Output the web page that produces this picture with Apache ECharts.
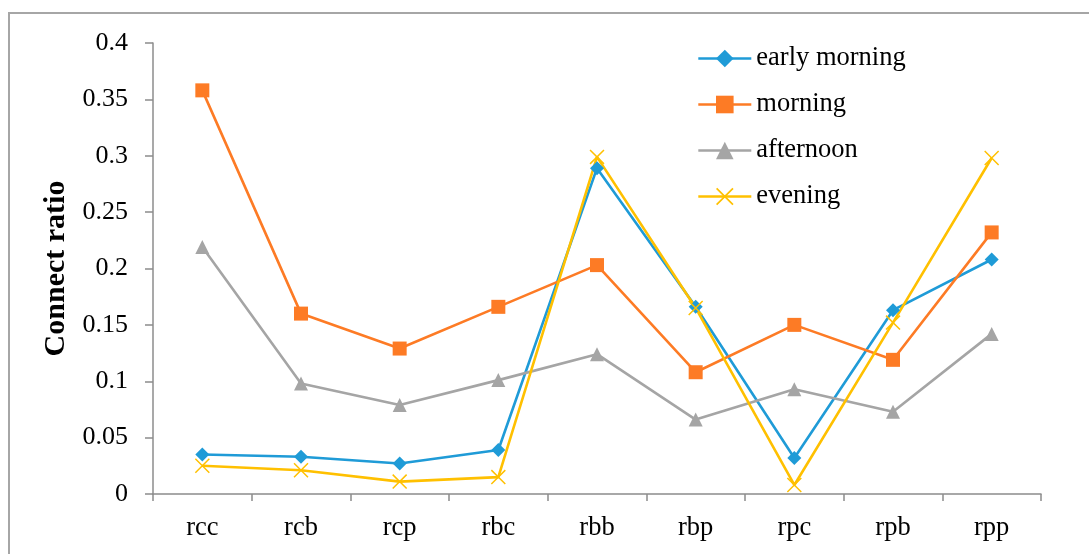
<!DOCTYPE html>
<html>
<head>
<meta charset="utf-8">
<script src="https://cdn.jsdelivr.net/npm/echarts@6/dist/echarts.min.js"></script>
<style>
  html, body { margin: 0; padding: 0; background: #fff; }
  #chart { width: 1089px; height: 554px; }
</style>
</head>
<body>
<div id="chart"></div>
<script>
// Connection types on the category axis
const categories = ['rcc', 'rcb', 'rcp', 'rbc', 'rbb', 'rbp', 'rpc', 'rpb', 'rpp'];

// Connect ratio per time of day
const earlyMorning = [0.035, 0.033, 0.027, 0.039, 0.289, 0.166, 0.032, 0.163, 0.208];
const morning      = [0.358, 0.160, 0.129, 0.166, 0.203, 0.108, 0.150, 0.119, 0.232];
const afternoon    = [0.219, 0.098, 0.079, 0.101, 0.124, 0.066, 0.093, 0.073, 0.142];
const evening      = [0.025, 0.021, 0.011, 0.015, 0.299, 0.165, 0.008, 0.152, 0.298];

const yTicks = { min: 0, max: 0.4, interval: 0.05 };

const serif = '"Liberation Serif", "DejaVu Serif", serif';
const axisGray = '#8c8c8c';

// thin "x" mark built from two slim diagonal bars
const crossPath = 'path://M0,0.7L0.7,0L10,9.3L9.3,10Z M9.3,0L10,0.7L0.7,10L0,9.3Z';

function lineSeries(name, data, color, symbol, size) {
  return {
    name: name,
    type: 'line',
    data: data,
    symbol: symbol,
    symbolSize: size,
    showAllSymbol: true,
    lineStyle: { color: color, width: 2.6 },
    itemStyle: { color: color, borderWidth: 0 },
    emphasis: { disabled: true },
    animation: false
  };
}

const chart = echarts.init(document.getElementById('chart'), null, { renderer: 'canvas' });
chart.setOption({
  backgroundColor: '#ffffff',
  animation: false,
  grid: { left: 153, right: 48, top: 43, bottom: 60 },
  graphic: [{
    type: 'rect',
    shape: { x: 9, y: 13, width: 1200, height: 1000 },
    style: { fill: 'none', stroke: '#a6a6a6', lineWidth: 2 },
    silent: true
  }],
  legend: {
    orient: 'vertical',
    left: 692,
    top: 40,
    itemWidth: 53,
    itemHeight: 22,
    itemGap: 19,
    lineStyle: { width: 2.6 },
    textStyle: { fontFamily: serif, fontSize: 26.5, color: '#000' },
    data: ['early morning', 'morning', 'afternoon', 'evening']
  },
  xAxis: {
    type: 'category',
    data: categories,
    boundaryGap: true,
    axisLine: { lineStyle: { color: axisGray, width: 1.5 } },
    axisTick: { show: true, alignWithLabel: false, length: 7, lineStyle: { color: axisGray, width: 1.5 } },
    axisLabel: { fontFamily: serif, fontSize: 26.5, color: '#000', margin: 21 },
    splitLine: { show: false }
  },
  yAxis: {
    type: 'value',
    min: yTicks.min,
    max: yTicks.max,
    interval: yTicks.interval,
    name: 'Connect ratio',
    nameLocation: 'middle',
    nameGap: 74,
    nameRotate: 90,
    nameTextStyle: { fontFamily: serif, fontSize: 30, fontWeight: 'bold', color: '#000' },
    axisLine: { show: true, lineStyle: { color: axisGray, width: 1.5 } },
    axisTick: { show: true, length: 8, lineStyle: { color: axisGray, width: 1.5 } },
    axisLabel: { fontFamily: serif, fontSize: 26, color: '#000', margin: 25 },
    splitLine: { show: false }
  },
  series: [
    lineSeries('early morning', earlyMorning, '#1f9bd7', 'diamond', 14),
    lineSeries('morning', morning, '#fd7b25', 'rect', 14),
    lineSeries('afternoon', afternoon, '#a5a5a5', 'triangle', 14),
    lineSeries('evening', evening, '#ffc000', crossPath, 15)
  ]
});
</script>
</body>
</html>
